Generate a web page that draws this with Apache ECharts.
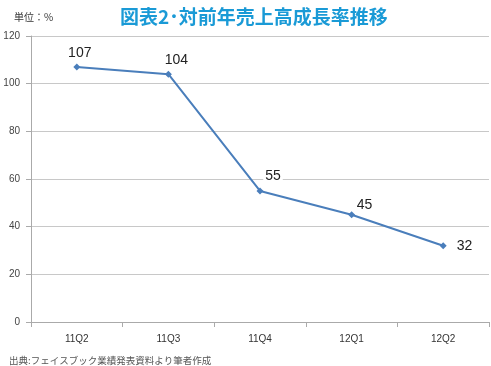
<!DOCTYPE html>
<html><head><meta charset="utf-8">
<script src="https://cdn.jsdelivr.net/npm/echarts@6/dist/echarts.min.js"></script>
<style>html,body{margin:0;padding:0;background:#fff}#c{width:491px;height:366px}</style>
</head><body><div id="c"></div>
<script>
var categories = ['11Q2','11Q3','11Q4','12Q1','12Q2'];
var growth = [107, 104, 55, 45, 32];

var labelLayout = [
  {position: 'top', offset: [3, 1]},
  {position: 'top', offset: [8, 1]},
  {position: 'top', offset: [13, 0]},
  {position: 'top', offset: [13, 5]},
  {position: 'right', offset: [4, 0]}
];

var chart = echarts.init(document.getElementById('c'));
var fontCJK = '"Noto Sans CJK JP","Noto Sans",sans-serif';
chart.setOption({
  animation: false,
  title: [
    {text: '図表2･対前年売上高成長率推移', left: 115, top: 2,
     textStyle: {color: '#1a9ad6', fontSize: 19, fontWeight: 'bold', fontFamily: fontCJK}},
    {text: '単位：%', left: 9, top: 7,
     textStyle: {color: '#333', fontSize: 10, fontWeight: 'normal', fontFamily: fontCJK}},
    {text: '出典:フェイスブック業績発表資料より筆者作成', left: 4, top: 351,
     textStyle: {color: '#555', fontSize: 9.5, fontWeight: 'normal', fontFamily: fontCJK}}
  ],
  grid: {left: 31, right: 2, top: 36, bottom: 44},
  xAxis: {
    type: 'category', data: categories, boundaryGap: true,
    axisLine: {lineStyle: {color: '#aaa'}},
    axisTick: {show: true, lineStyle: {color: '#aaa'}},
    axisLabel: {color: '#333', fontSize: 10, margin: 12, fontFamily: 'Liberation Sans'}
  },
  yAxis: {
    type: 'value', min: 0, max: 120, interval: 20,
    axisLine: {show: true, lineStyle: {color: '#aaa'}},
    axisTick: {show: true, lineStyle: {color: '#aaa'}},
    splitLine: {lineStyle: {color: '#c8c8c8'}},
    axisLabel: {color: '#444', fontSize: 10, margin: 11, fontFamily: 'Liberation Sans'}
  },
  series: [{
    type: 'line',
    data: growth.map(function(v, i){
      return {value: v, label: labelLayout[i]};
    }),
    symbol: 'diamond', symbolSize: 7,
    lineStyle: {color: '#4a7ebb', width: 2},
    itemStyle: {color: '#4a7ebb'},
    label: {show: true, color: '#222', fontSize: 14, fontFamily: 'Liberation Sans',
            backgroundColor: '#fff', padding: [0, 2], distance: 4}
  }]
});
</script></body></html>
